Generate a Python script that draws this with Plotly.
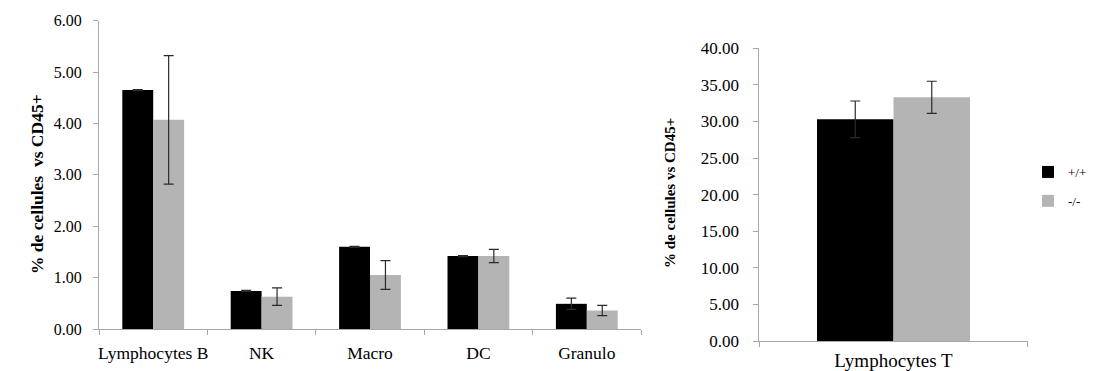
import plotly.graph_objects as go

# ---- data ----
categories_left = ["Lymphocytes B", "NK", "Macro", "DC", "Granulo"]
wt_left = [4.65, 0.74, 1.60, 1.42, 0.49]
wt_left_err = [0.01, 0.01, 0.01, 0.01, 0.11]
ko_left = [4.07, 0.63, 1.05, 1.42, 0.36]
ko_left_err = [1.25, 0.17, 0.28, 0.13, 0.10]

categories_right = ["Lymphocytes T"]
wt_right = [30.3]
wt_right_err = [2.5]
ko_right = [33.3]
ko_right_err = [2.2]

series_names = ["+/+", "-/-"]
left_ticks = [0, 1, 2, 3, 4, 5, 6]
right_ticks = [0, 5, 10, 15, 20, 25, 30, 35, 40]

BLACK = "#000000"
GRAY = "#b4b4b4"
ERR = "#2a2a2a"
AXIS = "#a8a8a8"
FONT = "Liberation Serif"

# page body has an 8px margin; figure sized to fit the window
W, H = 1088, 363

def err(vals):
    return dict(type="data", array=vals, visible=True, color=ERR, thickness=1.2, width=5)

fig = go.Figure()
fig.add_trace(go.Bar(x=categories_left, y=wt_left, name=series_names[0], marker=dict(color=BLACK, line=dict(width=0)),
                     error_y=err(wt_left_err), xaxis="x", yaxis="y", showlegend=False, legendgroup="a"))
fig.add_trace(go.Bar(x=categories_left, y=ko_left, name=series_names[1], marker=dict(color=GRAY, line=dict(width=0)),
                     error_y=err(ko_left_err), xaxis="x", yaxis="y", showlegend=False, legendgroup="b"))
fig.add_trace(go.Bar(x=categories_right, y=wt_right, name=series_names[0], marker=dict(color=BLACK, line=dict(width=0)),
                     error_y=err(wt_right_err), xaxis="x2", yaxis="y2", legendgroup="a"))
fig.add_trace(go.Bar(x=categories_right, y=ko_right, name=series_names[1], marker=dict(color=GRAY, line=dict(width=0)),
                     error_y=err(ko_right_err), xaxis="x2", yaxis="y2", legendgroup="b"))

axis_common = dict(showline=True, linecolor=AXIS, linewidth=1, ticks="outside", tickcolor=AXIS,
                   ticklen=5, showgrid=False, zeroline=False, automargin=False)

fig.update_layout(
    width=W, height=H,
    margin=dict(l=0, r=0, t=0, b=0, autoexpand=False),
    paper_bgcolor="white", plot_bgcolor="white",
    barmode="group", bargap=0.43, bargroupgap=0,
    font=dict(family=FONT, color="#000000"),
    xaxis=dict(domain=[91 / W, 633 / W], anchor="y", tickson="boundaries", ticklabelstandoff=8, tickangle=0,
               tickfont=dict(size=17.5, family=FONT), **axis_common),
    yaxis=dict(domain=[1 - 321 / H, 1 - 12.7 / H], anchor="x", range=[0, 6], tickvals=left_ticks, tickformat=".2f",
               ticklabelstandoff=8, tickfont=dict(size=16, family=FONT), **axis_common),
    xaxis2=dict(domain=[751.3 / W, 1019.7 / W], anchor="y2", tickson="boundaries", ticklabelstandoff=2, tickangle=0,
                tickfont=dict(size=19, family=FONT), **axis_common),
    yaxis2=dict(domain=[1 - 333 / H, 1 - 40.3 / H], anchor="x2", range=[0, 40], tickvals=right_ticks, tickformat=".2f",
                ticklabelstandoff=11, tickfont=dict(size=17, family=FONT), **axis_common),
    legend=dict(x=1020 / W, y=1 - 149 / H, xanchor="left", yanchor="top",
                font=dict(size=13, family=FONT), itemwidth=30, tracegroupgap=9, bgcolor="rgba(0,0,0,0)"),
    annotations=[
        dict(text="<b>% de cellules \u00a0vs CD45+</b>", textangle=-90, xref="paper", yref="paper",
             x=17 / W, y=1 - 176 / H, showarrow=False, font=dict(size=17.5, family=FONT)),
        dict(text="<b>% de cellules vs CD45+</b>", textangle=-90, xref="paper", yref="paper",
             x=662 / W, y=1 - 185 / H, showarrow=False, font=dict(size=15, family=FONT)),
    ],
)

fig.write_html("out.html")
